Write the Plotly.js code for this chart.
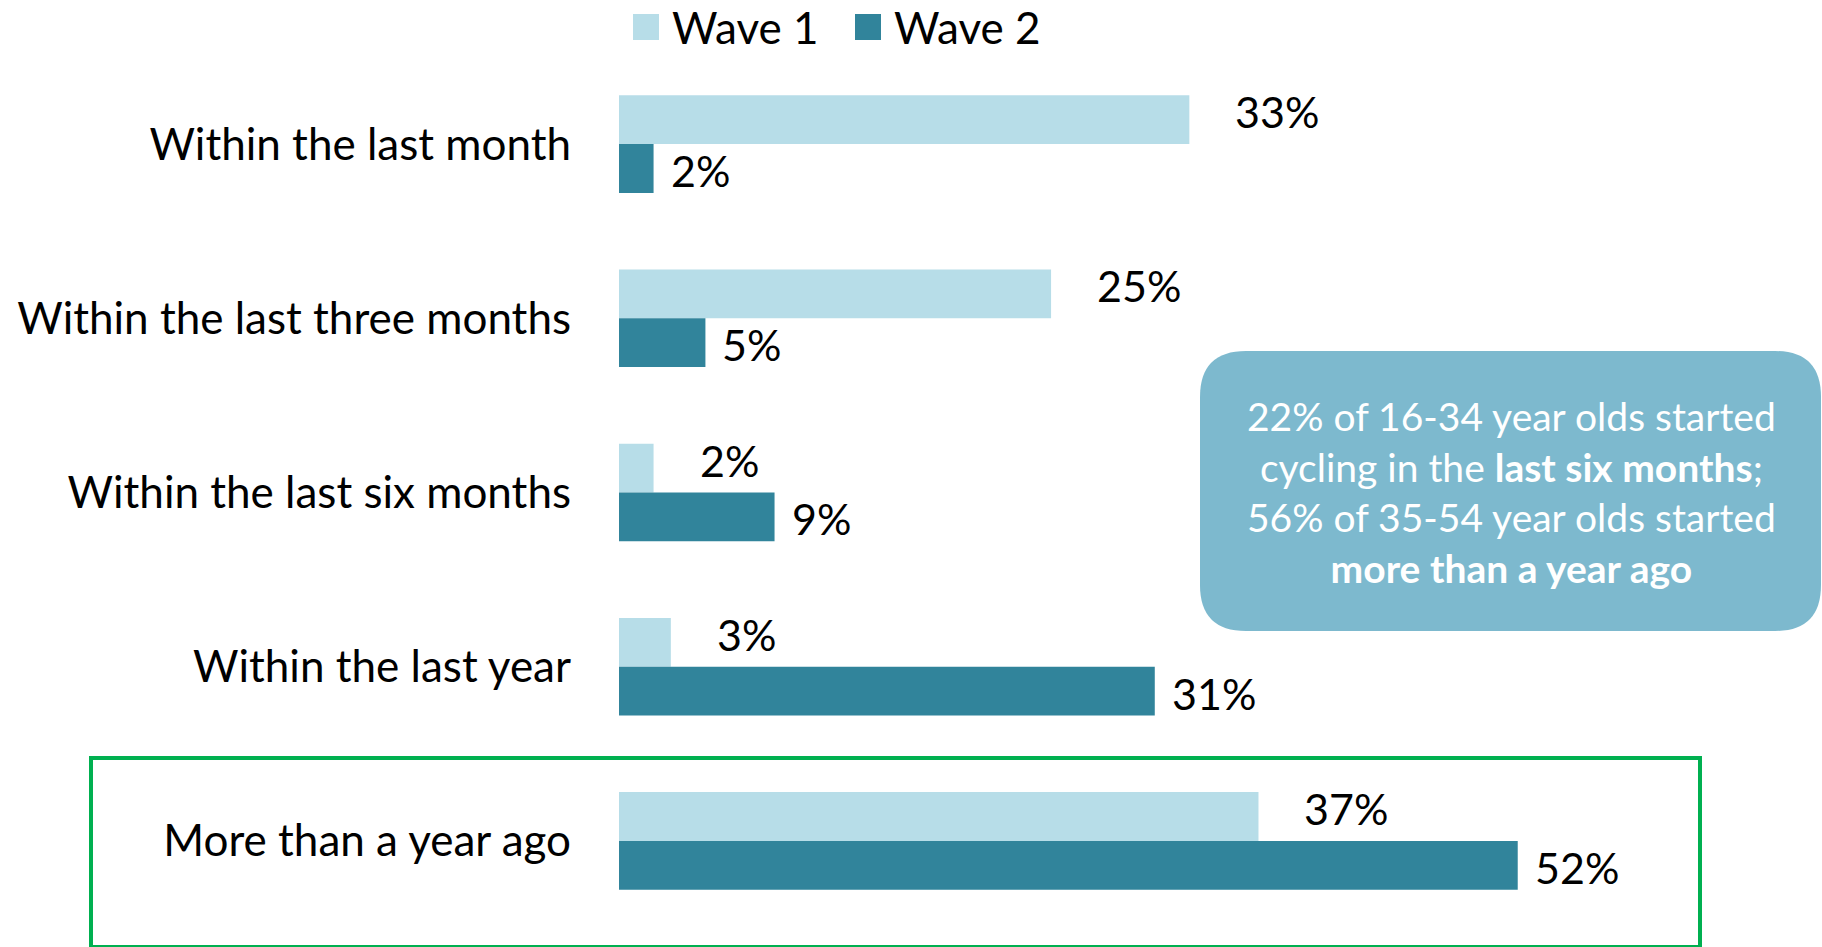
<!DOCTYPE html>
<html>
<head>
<meta charset="utf-8">
<script src="https://cdn.plot.ly/plotly-3.0.1.min.js"></script>
<style>html,body{margin:0;padding:0;background:#fff;}#chart{width:1822px;height:947px;}</style>
</head>
<body>
<div id="chart"></div>
<script>
// ---- data ----
const categories = ["Within the last month", "Within the last three months", "Within the last six months", "Within the last year", "More than a year ago"];
const wave1 = [33, 25, 2, 3, 37];
const wave2 = [2, 5, 9, 31, 52];
const seriesNames = ["Wave 1", "Wave 2"];
const calloutLines = ["22% of 16-34 year olds started", "cycling in the <b>last six months</b>;", "56% of 35-54 year olds started", "<b>more than a year ago</b>"];

// ---- layout constants ----
const W = 1822, H = 947;
const M = {l: 619, r: 166, t: 57, b: 19};
const PW = W - M.l - M.r, PH = H - M.t - M.b;
const px2x = p => (p - M.l) / PW;
const py2y = p => (H - M.b - p) / PH;
const FONT = "Lato, 'Open Sans', sans-serif";
const C1 = "#B7DDE8", C2 = "#31849B";

const traces = [
  {type: "bar", orientation: "h", name: seriesNames[0], y: categories, x: wave1, marker: {color: C1}, hoverinfo: "x+name"},
  {type: "bar", orientation: "h", name: seriesNames[1], y: categories, x: wave2, marker: {color: C2}, hoverinfo: "x+name"}
];

const annotations = [];
const half = 0.14;
categories.forEach((c, i) => {
  annotations.push({x: wave1[i], y: i - half, xref: "x", yref: "y", text: wave1[i] + "%", showarrow: false,
    xanchor: "left", yanchor: "middle", xshift: 44, yshift: 8, font: {family: FONT, size: 43, color: "#000"}});
  annotations.push({x: wave2[i], y: i + half, xref: "x", yref: "y", text: wave2[i] + "%", showarrow: false,
    xanchor: "left", yanchor: "middle", xshift: 15, yshift: -2, font: {family: FONT, size: 43, color: "#000"}});
});

// callout text
annotations.push({xref: "paper", yref: "paper", x: px2x(1511), y: py2y(491.5), text: calloutLines.join("<br>"),
  showarrow: false, align: "center", xanchor: "center", yanchor: "middle", font: {family: FONT, size: 39, color: "#fff"}});

// custom legend
const legendItems = [{sx: 633, tx: 670, color: C1, name: seriesNames[0]}, {sx: 855, tx: 892, color: C2, name: seriesNames[1]}];
const shapes = [];
legendItems.forEach(it => {
  shapes.push({type: "rect", xref: "paper", yref: "paper", x0: px2x(it.sx), x1: px2x(it.sx + 26), y0: py2y(40), y1: py2y(14),
    fillcolor: it.color, line: {width: 0}});
  annotations.push({xref: "paper", yref: "paper", x: px2x(it.tx), y: py2y(27), text: it.name, showarrow: false,
    xanchor: "left", yanchor: "middle", font: {family: FONT, size: 44, color: "#000"}});
});

// rounded callout box
(function(){
  const x0 = px2x(1200), x1 = px2x(1821), y0 = py2y(631), y1 = py2y(351);
  const rx = 46 / PW, ry = 46 / PH;
  const p = `M ${x0+rx},${y1} L ${x1-rx},${y1} Q ${x1},${y1} ${x1},${y1-ry} L ${x1},${y0+ry} Q ${x1},${y0} ${x1-rx},${y0} ` +
            `L ${x0+rx},${y0} Q ${x0},${y0} ${x0},${y0+ry} L ${x0},${y1-ry} Q ${x0},${y1} ${x0+rx},${y1} Z`;
  shapes.push({type: "path", xref: "paper", yref: "paper", path: p, fillcolor: "#7DB9CE", line: {width: 0}, layer: "below"});
})();

// green highlight rectangle
shapes.push({type: "rect", xref: "paper", yref: "paper", x0: px2x(91), x1: px2x(1700), y0: py2y(947), y1: py2y(758),
  line: {color: "#00B050", width: 4}, fillcolor: "rgba(0,0,0,0)"});

const layout = {
  width: W, height: H,
  margin: M,
  paper_bgcolor: "#fff", plot_bgcolor: "#fff",
  showlegend: false,
  barmode: "group", bargap: 0.44, bargroupgap: 0,
  xaxis: {range: [0, 60], visible: false, fixedrange: true},
  yaxis: {autorange: false, range: [4.5, -0.5], type: "category", showgrid: false, zeroline: false, showline: false,
    ticks: "", ticklabelstandoff: 47, tickfont: {family: FONT, size: 44, color: "#000"}, fixedrange: true},
  annotations: annotations,
  shapes: shapes
};

Plotly.newPlot("chart", traces, layout, {displayModeBar: false, staticPlot: true});
</script>
</body>
</html>
